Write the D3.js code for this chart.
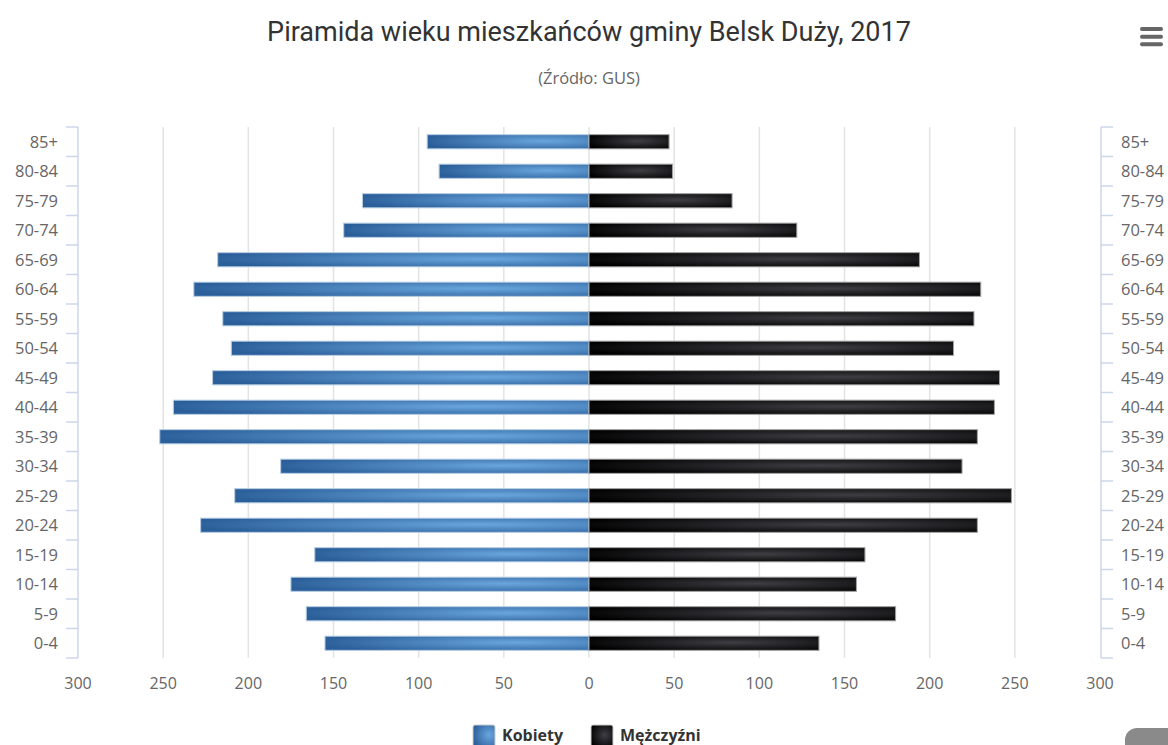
<!DOCTYPE html>
<html><head><meta charset="utf-8">
<script src="https://cdn.jsdelivr.net/npm/d3@7"></script>
<style>
html,body{margin:0;padding:0;background:#fff;overflow:hidden}
svg{display:block;font-family:"Open Sans","Noto Sans",sans-serif}
</style></head>
<body>
<svg id="c" width="1168" height="745"></svg>
<script>
// ---- data ----
const categories = ["0-4","5-9","10-14","15-19","20-24","25-29","30-34","35-39","40-44","45-49","50-54","55-59","60-64","65-69","70-74","75-79","80-84","85+"];
const women = [155,166,175,161,228,208,181,252,244,221,210,215,232,218,144,133,88,95];
const men   = [135,180,157,162,228,248,219,228,238,241,214,226,230,194,122,84,49,47];
const valueTicks = [-300,-250,-200,-150,-100,-50,0,50,100,150,200,250,300];
const seriesNames = ["Kobiety","Mężczyźni"];
const titleText = "Piramida wieku mieszkańców gminy Belsk Duży, 2017";
const subtitleText = "(Źródło: GUS)";

const svg = d3.select("#c");

const x = d3.scaleLinear().domain([-300,300]).range([78,1100]);
const y = d3.scaleBand().domain(categories.slice().reverse()).range([127,658]).paddingInner(0.52).paddingOuter(0.26);
const step = y.step();

// gradients
const defs = svg.append("defs");
const gB = defs.append("radialGradient").attr("id","gBlue").attr("cx",0.72).attr("cy",0.45).attr("r",0.75);
gB.append("stop").attr("offset",0).attr("stop-color","#6aa6de");
gB.append("stop").attr("offset",1).attr("stop-color","#2b5f9a");
const gK = defs.append("radialGradient").attr("id","gBlack").attr("cx",0.62).attr("cy",0.45).attr("r",0.7);
gK.append("stop").attr("offset",0).attr("stop-color","#3e3e44");
gK.append("stop").attr("offset",1).attr("stop-color","#000000");

// title
svg.append("text").attr("x",589).attr("y",41).attr("text-anchor","middle")
  .attr("font-size",27).attr("fill","#333").attr("font-family","Roboto, 'Open Sans', sans-serif").text(titleText);
svg.append("text").attr("x",589).attr("y",84).attr("text-anchor","middle")
  .attr("font-size",16.5).attr("fill","#666").text(subtitleText);

// menu icon
svg.append("g").selectAll("rect").data([29,36.7,44.3]).join("rect")
  .attr("x",1140).attr("y",d=>d-2).attr("width",23).attr("height",4).attr("rx",2).attr("fill","#666");

// gridlines
svg.append("g").selectAll("line").data(valueTicks.filter(v=>v!==-300 && v!==300)).join("line")
  .attr("x1",d=>x(d)).attr("x2",d=>x(d)).attr("y1",127).attr("y2",658)
  .attr("stroke","#e3e3e3").attr("stroke-width",1.5);

// category axes (left and right)
const bounds = d3.range(categories.length+1).map(i=>127+i*step);
const axL = svg.append("g");
axL.append("line").attr("x1",x(-300)).attr("x2",x(-300)).attr("y1",127).attr("y2",658).attr("stroke","#ccd6eb").attr("stroke-width",1.5);
axL.selectAll("line.t").data(bounds).join("line").attr("class","t")
  .attr("x1",x(-300)-12).attr("x2",x(-300)).attr("y1",d=>d).attr("y2",d=>d).attr("stroke","#ccd6eb").attr("stroke-width",1.5);
axL.selectAll("text").data(categories).join("text")
  .attr("x",58).attr("y",d=>y(d)+y.bandwidth()/2).attr("dy","0.35em").attr("text-anchor","end")
  .attr("font-size",16.5).attr("fill","#666").text(d=>d);

const axR = svg.append("g");
axR.append("line").attr("x1",x(300)+1).attr("x2",x(300)+1).attr("y1",127).attr("y2",658).attr("stroke","#ccd6eb").attr("stroke-width",1.5);
axR.selectAll("line.t").data(bounds).join("line").attr("class","t")
  .attr("x1",x(300)+1).attr("x2",x(300)+13).attr("y1",d=>d).attr("y2",d=>d).attr("stroke","#ccd6eb").attr("stroke-width",1.5);
axR.selectAll("text").data(categories).join("text")
  .attr("x",1121).attr("y",d=>y(d)+y.bandwidth()/2).attr("dy","0.35em").attr("text-anchor","start")
  .attr("font-size",16.5).attr("fill","#666").text(d=>d);

// value axis labels
svg.append("g").selectAll("text").data(valueTicks).join("text")
  .attr("x",d=>x(d)).attr("y",689).attr("text-anchor","middle")
  .attr("font-size",16).attr("fill","#666").text(d=>Math.abs(d));

// bars
svg.append("g").selectAll("rect").data(categories.map((c,i)=>({c,v:women[i]}))).join("rect")
  .attr("x",d=>x(-d.v)).attr("width",d=>x(0)-x(-d.v)).attr("y",d=>y(d.c)).attr("height",y.bandwidth())
  .attr("fill","url(#gBlue)").attr("stroke","#b7cde3").attr("stroke-width",1);
svg.append("g").selectAll("rect").data(categories.map((c,i)=>({c,v:men[i]}))).join("rect")
  .attr("x",x(0)).attr("width",d=>x(d.v)-x(0)).attr("y",d=>y(d.c)).attr("height",y.bandwidth())
  .attr("fill","url(#gBlack)").attr("stroke","#a0a0a0").attr("stroke-width",1);

// legend
const lg = svg.append("g");
const items = [{n:seriesNames[0],f:"url(#gBlue)",x:473,tx:502},{n:seriesNames[1],f:"url(#gBlack)",x:591,tx:620}];
lg.selectAll("rect").data(items).join("rect").attr("x",d=>d.x).attr("y",725).attr("width",22).attr("height",22).attr("rx",2)
  .attr("fill",d=>d.f).attr("stroke","#ccc").attr("stroke-width",1);
lg.selectAll("text").data(items).join("text").attr("x",d=>d.tx).attr("y",741)
  .attr("font-size",16).attr("font-weight","bold").attr("fill","#333").text(d=>d.n);

// bottom-right button
svg.append("rect").attr("x",1125).attr("y",728).attr("width",80).attr("height",60).attr("rx",12).attr("fill","#8a8a8a");
</script>
</body></html>
